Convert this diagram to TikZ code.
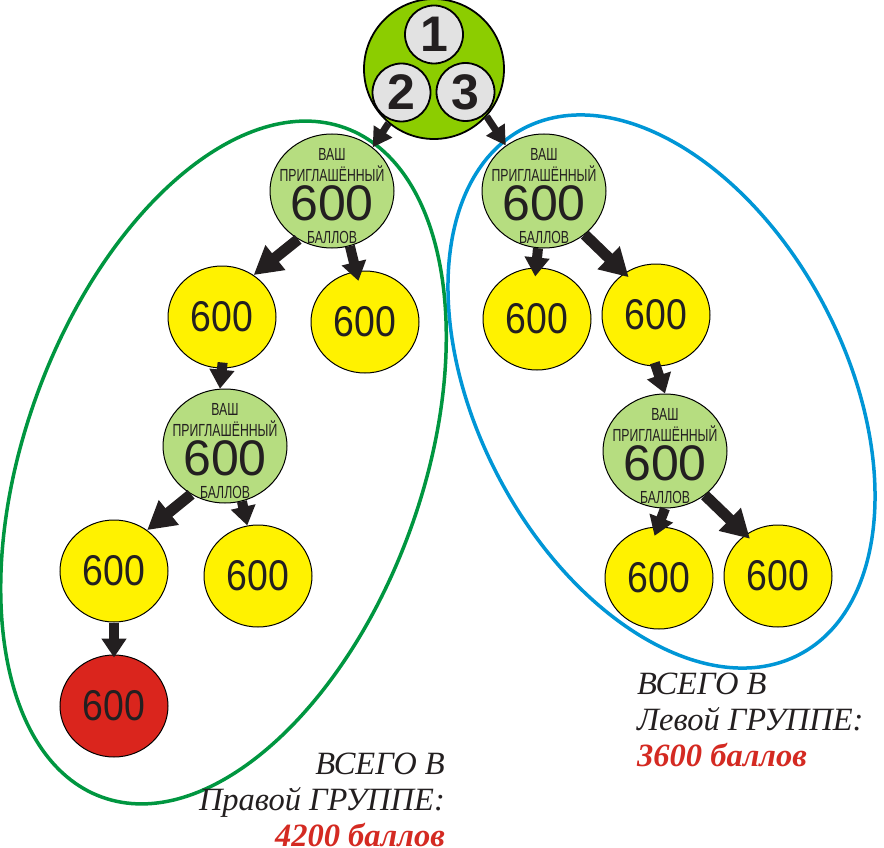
\documentclass[tikz,border=0pt]{standalone}
\usepackage{fontspec}
\setmainfont{Liberation Serif}
\newfontfamily\plainsans{Liberation Sans}
\newfontfamily\condsans[FakeStretch=0.70]{Liberation Sans}
\newfontfamily\narrowsans[FakeStretch=0.87]{Liberation Sans}
\usetikzlibrary{shapes.geometric,arrows.meta}

\definecolor{leaf}{RGB}{140,205,0}
\definecolor{paleleaf}{RGB}{182,221,128}
\definecolor{seatgray}{RGB}{226,226,226}
\definecolor{bonusyellow}{RGB}{255,242,0}
\definecolor{lostred}{RGB}{218,37,29}
\definecolor{ringgreen}{RGB}{0,150,64}
\definecolor{ringblue}{RGB}{0,150,214}
\definecolor{ink}{RGB}{35,31,32}
\definecolor{sumred}{RGB}{212,42,34}

\newcommand\invtext{\rule{0pt}{22pt}ВАШ\\[1pt]ПРИГЛАШЁННЫЙ\\[3pt]{\plainsans\fontsize{50}{50}\selectfont 600}\\[3.5pt]БАЛЛОВ}

\tikzset{
  base/.style={ellipse, draw=black, line width=1pt, inner sep=0pt, text=ink},
  bonus/.style={base, fill=bonusyellow, minimum width=108pt, minimum height=102pt,
    font=\narrowsans\fontsize{43}{43}\selectfont},
  lost/.style={bonus, fill=lostred},
  invited/.style={base, fill=paleleaf, minimum width=124pt, minimum height=114pt,
    inner xsep=-25pt, inner ysep=-30pt,
    align=center, font=\condsans\fontsize{17.5}{20}\selectfont},
  seat/.style={circle, draw=black, line width=1.8pt, fill=seatgray, minimum size=58pt,
    inner sep=0pt, text=ink, font=\plainsans\bfseries\fontsize{50}{50}\selectfont},
  total/.style={inner sep=0pt, text=ink, font=\itshape\fontsize{32.5}{36}\selectfont},
  arr/.style={draw=ink, line width=10pt, -{Triangle[width=24pt,length=19pt]}},
  heavyarr/.style={draw=ink, line width=11pt, -{Triangle[width=30pt,length=28pt]}},
  toparr/.style={draw=ink, line width=7pt, -{Triangle[width=21pt,length=19pt]}},
  ring/.style={line width=3.5pt}
}

\begin{document}
\begin{tikzpicture}[x=1pt,y=-1pt]
  \useasboundingbox (0,0) rectangle (884,848);

  % three seats on top
  \node[circle, draw=black, line width=1.8pt, fill=leaf, minimum size=140pt] (top) at (434,69) {};
  \node[seat] (seatA) at (434,34.5) {1};
  \node[seat] (seatB) at (401.5,92.5) {2};
  \node[seat] (seatC) at (465.5,92) {3};

  % left group
  \node[invited] (invL) at (332,191) {\invtext};
  \node[bonus] (bL1) at (222,317) {600};
  \node[bonus] (bL2) at (365,322) {600};
  \node[invited] (invLL) at (225,446) {\invtext};
  \node[bonus] (bL3) at (114,571) {600};
  \node[bonus] (bL4) at (258,576) {600};
  \node[lost] (lostL) at (114,706) {600};

  % right group
  \node[invited] (invR) at (544,191) {\invtext};
  \node[bonus] (bR1) at (537,319) {600};
  \node[bonus] (bR2) at (656,315) {600};
  \node[invited] (invRR) at (665,451) {\invtext};
  \node[bonus] (bR3) at (659,578) {600};
  \node[bonus] (bR4) at (778,576) {600};

  \draw[ring, draw=ringgreen, rotate around={-20:(223.5,462.5)}]
    (223.5,462.5) ellipse [x radius=198.5pt, y radius=356pt];
  \draw[ring, draw=ringblue, rotate around={27.7:(661.5,391.5)}]
    (661.5,391.5) ellipse [x radius=184pt, y radius=297pt];

  \draw[toparr] (top.230) -- (invL.47);
  \draw[toparr] (top.318) -- (invR.130);

  \draw[heavyarr] (invL.235) -- (bL1.53);
  \draw[arr, shorten >=-10pt] (invL.288) -- (bL2.100);
  \draw[arr, shorten <=-6pt] (bL1.south) -- (invLL.95);
  \draw[heavyarr] (invLL.235) -- (bL3.51);
  \draw[arr] (invLL.287) -- (bL4.102);
  \draw[arr, shorten >=-3pt] (bL3.south) -- (lostL.north);

  \draw[arr, shorten >=-9pt] (invR.264) -- (bR1.91);
  \draw[heavyarr, shorten >=-6pt] (invR.313) -- (bR2.127);
  \draw[arr, shorten <=-4pt] (bR2.south) -- (invRR.north);
  \draw[arr, shorten >=-10pt] (invRR.south) -- (bR3.91);
  \draw[heavyarr, shorten >=-6pt] (invRR.312) -- (bR4.128);

  \node[total, align=right, anchor=north east] (sumL) at (445,753)
    {ВСЕГО В\\Правой ГРУППЕ:\\{\color{sumred}\bfseries 4200 баллов}};
  \node[total, align=left, anchor=north west] (sumR) at (637,673)
    {ВСЕГО В\\Левой ГРУППЕ:\\{\color{sumred}\bfseries 3600 баллов}};
\end{tikzpicture}
\end{document}
